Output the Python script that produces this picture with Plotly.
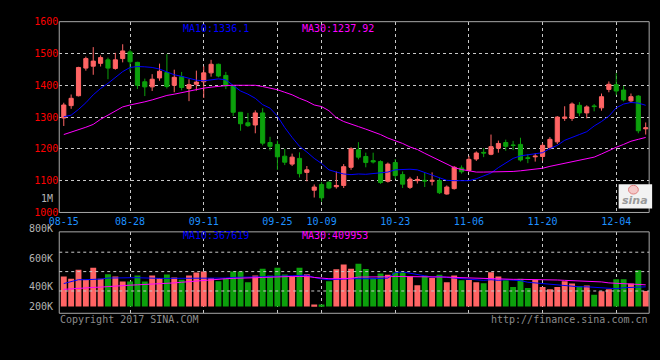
import plotly.graph_objects as go

W, H = 660, 360

# ---------------- data ----------------
label_idx = [0, 9, 19, 29, 35, 45, 55, 65, 75]
label_txt = ["08-15", "08-28", "09-11", "09-25", "10-09", "10-23", "11-06", "11-20", "12-04"]

opens = [1297, 1336, 1367, 1454, 1460, 1469, 1480, 1453, 1484, 1505,
         1472, 1411, 1395, 1423, 1440, 1400, 1427, 1390, 1403, 1411,
         1439, 1466, 1431, 1398, 1315, 1282, 1275, 1313, 1220, 1214,
         1177, 1152, 1170, 1126, 1070, 1088, 1095, 1081, 1085, 1142,
         1197, 1176, 1163, 1160, 1098, 1157, 1119, 1079, 1100, 1101,
         1098, 1100, 1058, 1075, 1140, 1132, 1168, 1189, 1183, 1202,
         1220, 1212, 1214, 1172, 1175, 1176, 1204, 1222, 1296, 1296,
         1337, 1313, 1335, 1329, 1387, 1402, 1385, 1351, 1366, 1263]
highs = [1345, 1371, 1458, 1490, 1520, 1494, 1487, 1502, 1529, 1512,
         1474, 1421, 1435, 1468, 1498, 1449, 1442, 1419, 1446, 1460,
         1480, 1468, 1442, 1400, 1315, 1313, 1321, 1328, 1238, 1226,
         1200, 1185, 1189, 1146, 1088, 1096, 1098, 1129, 1152, 1205,
         1221, 1188, 1188, 1164, 1157, 1168, 1129, 1112, 1114, 1124,
         1126, 1108, 1085, 1146, 1148, 1178, 1192, 1202, 1245, 1226,
         1229, 1225, 1235, 1183, 1186, 1218, 1237, 1303, 1334, 1346,
         1347, 1337, 1341, 1374, 1412, 1438, 1398, 1374, 1369, 1283]
lows = [1272, 1326, 1365, 1446, 1433, 1459, 1419, 1449, 1472, 1443,
        1388, 1366, 1382, 1414, 1390, 1378, 1384, 1350, 1383, 1360,
        1427, 1425, 1388, 1303, 1257, 1269, 1249, 1211, 1195, 1134,
        1149, 1146, 1110, 1098, 1047, 1034, 1073, 1075, 1077, 1134,
        1167, 1142, 1154, 1090, 1094, 1105, 1077, 1074, 1091, 1080,
        1085, 1058, 1056, 1072, 1122, 1128, 1162, 1174, 1180, 1188,
        1194, 1196, 1160, 1155, 1160, 1163, 1198, 1215, 1288, 1288,
        1303, 1296, 1318, 1320, 1378, 1369, 1349, 1344, 1249, 1245]
closes = [1338, 1359, 1456, 1484, 1476, 1487, 1454, 1480, 1508, 1474,
          1400, 1395, 1419, 1444, 1396, 1425, 1393, 1402, 1410, 1439,
          1466, 1429, 1398, 1315, 1279, 1273, 1313, 1218, 1208, 1175,
          1158, 1174, 1122, 1134, 1080, 1046, 1077, 1085, 1144, 1200,
          1174, 1157, 1159, 1094, 1152, 1116, 1089, 1105, 1104, 1099,
          1101, 1062, 1080, 1142, 1128, 1167, 1187, 1187, 1207, 1217,
          1208, 1211, 1165, 1170, 1177, 1211, 1230, 1300, 1300, 1341,
          1313, 1332, 1333, 1364, 1403, 1382, 1354, 1364, 1257, 1266]
ma10 = [1301, 1306, 1324, 1345, 1370, 1390, 1406, 1426, 1443, 1456,
        1459, 1458, 1456, 1451, 1441, 1433, 1428, 1421, 1416, 1414,
        1418, 1420, 1417, 1400, 1382, 1372, 1359, 1339, 1328, 1303,
        1267, 1236, 1208, 1190, 1170, 1154, 1134, 1127, 1121, 1119,
        1121, 1120, 1122, 1124, 1127, 1134, 1136, 1136, 1134, 1126,
        1119, 1109, 1101, 1100, 1100, 1100, 1106, 1114, 1124, 1141,
        1155, 1170, 1178, 1181, 1183, 1188, 1201, 1211, 1227, 1237,
        1245, 1254, 1272, 1286, 1303, 1329, 1341, 1346, 1344, 1337]
ma30 = [1245, 1252, 1260, 1268, 1277, 1293, 1306, 1318, 1332, 1338,
        1342, 1348, 1354, 1361, 1368, 1372, 1377, 1381, 1385, 1391,
        1394, 1397, 1399, 1400, 1400, 1400, 1400, 1396, 1392, 1386,
        1378, 1370, 1359, 1350, 1338, 1333, 1320, 1298, 1286, 1277,
        1270, 1262, 1254, 1245, 1234, 1226, 1217, 1206, 1198, 1186,
        1175, 1164, 1151, 1141, 1135, 1130, 1127, 1127, 1127, 1127,
        1128, 1129, 1131, 1133, 1136, 1139, 1145, 1150, 1154, 1159,
        1164, 1169, 1174, 1184, 1195, 1205, 1214, 1224, 1230, 1236]
volumes = [516, 477, 632, 460, 666, 477, 555, 516, 427, 427,
           533, 427, 533, 488, 549, 499, 460, 533, 582, 599,
           488, 433, 477, 599, 599, 416, 533, 649, 533, 666,
           549, 516, 666, 555, 33, 33, 433, 638, 721, 649,
           732, 643, 488, 566, 544, 582, 582, 516, 366, 527,
           488, 544, 416, 533, 449, 455, 416, 399, 588, 516,
           449, 333, 477, 316, 460, 333, 294, 333, 433, 394,
           349, 361, 200, 261, 294, 466, 466, 394, 621, 266]  # thousands
vol_ma10 = [394, 433, 460, 460, 460, 471, 488, 494, 494, 494,
            494, 488, 477, 483, 483, 483, 483, 483, 488, 488,
            488, 488, 488, 499, 499, 499, 505, 510, 516, 516,
            516, 527, 533, 538, 499, 471, 460, 460, 471, 477,
            471, 477, 477, 488, 488, 582, 594, 571, 544, 527,
            505, 516, 499, 488, 483, 477, 460, 449, 460, 449,
            460, 455, 444, 416, 405, 394, 377, 377, 361, 349,
            338, 338, 327, 316, 316, 305, 322, 333, 333, 338]
vol_ma30 = [294, 305, 316, 322, 327, 333, 344, 349, 361, 366,
            372, 377, 383, 388, 394, 405, 416, 427, 444, 455,
            460, 466, 477, 483, 483, 488, 494, 499, 505, 510,
            510, 516, 516, 516, 499, 483, 477, 477, 477, 483,
            505, 505, 499, 505, 510, 516, 516, 510, 510, 510,
            510, 510, 505, 499, 494, 494, 488, 477, 471, 471,
            466, 466, 466, 466, 466, 466, 466, 455, 449, 444,
            444, 433, 427, 422, 405, 399, 388, 383, 383, 372]
price_ticks = [1000, 1100, 1200, 1300, 1400, 1500, 1600]
vol_labels = ["800K", "600K", "400K", "200K"]
ma_price_text = ["MA10:1336.1", "MA30:1237.92"]
ma_vol_text = ["MA10:367619", "MA30:409953"]

# ---------------- styling ----------------
UP = "#ff6464"
DOWN = "#0ca00c"
GRID = "#c8c8c8"
BORDER = "#a8a8a8"
FONT = "DejaVu Sans Mono"

def px(x):
    return x / W

def py(y):
    return 1 - y / H

x = list(range(len(closes)))
vol_units = [v * 1000 for v in volumes]
vcolors = [UP if c >= o else DOWN for o, c in zip(opens, closes)]

fig = go.Figure()
fig.add_trace(go.Candlestick(
    x=x, open=opens, high=highs, low=lows, close=closes,
    increasing=dict(line=dict(color=UP, width=1), fillcolor=UP),
    decreasing=dict(line=dict(color=DOWN, width=1), fillcolor=DOWN),
    whiskerwidth=0, xaxis="x", yaxis="y", showlegend=False, hoverinfo="skip"))
fig.add_trace(go.Scatter(x=x, y=ma10, mode="lines", line=dict(color="#0000ff", width=1),
                         xaxis="x", yaxis="y", showlegend=False, hoverinfo="skip"))
fig.add_trace(go.Scatter(x=x, y=ma30, mode="lines", line=dict(color="#ff00ff", width=1),
                         xaxis="x", yaxis="y", showlegend=False, hoverinfo="skip"))
fig.add_trace(go.Bar(x=x, y=vol_units, marker=dict(color=vcolors, line=dict(width=0)),
                     xaxis="x2", yaxis="y2", showlegend=False, hoverinfo="skip"))
fig.add_trace(go.Scatter(x=x, y=[v * 1000 for v in vol_ma10], mode="lines",
                         line=dict(color="#0000ff", width=1),
                         xaxis="x2", yaxis="y2", showlegend=False, hoverinfo="skip"))
fig.add_trace(go.Scatter(x=x, y=[v * 1000 for v in vol_ma30], mode="lines",
                         line=dict(color="#ff00ff", width=1),
                         xaxis="x2", yaxis="y2", showlegend=False, hoverinfo="skip"))

XL, XR = 50, 649
MT, MB = 17.2, 214
VT, VB, VZERO = 234, 318, 311
per_px = 16640  # volume units per pixel
xrange = [-0.615, 79.47]

minor_grid = dict(tickvals=label_idx[1:], showgrid=True, gridcolor=GRID,
                  griddash="dot", gridwidth=1, ticks="")

fig.update_layout(
    width=W, height=H, margin=dict(l=0, r=0, t=0, b=0),
    paper_bgcolor="black", plot_bgcolor="black",
    bargap=0.2, boxgap=0.2,
    xaxis=dict(domain=[px(XL), px(XR)], range=xrange, anchor="y",
               tickvals=label_idx, ticktext=label_txt, showgrid=False,
               minor=minor_grid, zeroline=False, showline=False, ticks="",
               ticklabelstandoff=2,
               tickfont=dict(family=FONT, size=10, color="#1e90ff"),
               rangeslider=dict(visible=False)),
    yaxis=dict(domain=[py(MB), py(MT)], range=[1000, 1600], anchor="x",
               tickvals=price_ticks, showgrid=True, gridcolor=GRID, griddash="dot",
               zeroline=False, showline=False, ticks="",
               tickfont=dict(family=FONT, size=10, color="#ff0000")),
    xaxis2=dict(domain=[px(XL), px(XR)], range=xrange, anchor="y2", matches="x",
                tickvals=label_idx, showticklabels=False, showgrid=False,
                minor=minor_grid, zeroline=False, showline=False, ticks=""),
    yaxis2=dict(domain=[py(VB), py(VT)],
                range=[-(VB - VZERO) * per_px, (VZERO - VT) * per_px], anchor="x2",
                showticklabels=False, showgrid=False, zeroline=False, showline=False),
)

shapes = []
for (t, b) in [(MT, MB), (VT, VB)]:
    shapes.append(dict(type="rect", xref="paper", yref="paper",
                       x0=px(XL), x1=px(XR), y0=py(b), y1=py(t),
                       line=dict(color=BORDER, width=1)))
for gy in [255, 275, 295]:
    shapes.append(dict(type="line", xref="paper", yref="paper",
                       x0=px(XL), x1=px(XR), y0=py(gy), y1=py(gy),
                       line=dict(color=GRID, width=1, dash="dot")))
# sina logo box
shapes.append(dict(type="rect", xref="paper", yref="paper",
                   x0=px(618), x1=px(652), y0=py(210), y1=py(185),
                   fillcolor="#f2f2f2", line=dict(width=0)))
shapes.append(dict(type="circle", xref="paper", yref="paper",
                   x0=px(628), x1=px(638), y0=py(195), y1=py(186),
                   fillcolor="#f4c8c8", line=dict(color="#e08080", width=1)))
fig.update_layout(shapes=shapes)

ann = []
def text(t, xx, yy, color, anchor="left", size=10):
    ann.append(dict(text=t, x=px(xx), y=py(yy), xref="paper", yref="paper",
                    xanchor=anchor, yanchor="middle", showarrow=False,
                    font=dict(family=FONT, size=size, color=color)))

text(ma_price_text[0], 174, 24, "#0000ff")
text(ma_price_text[1], 294, 24, "#ff00ff")
text(ma_vol_text[0], 174, 238, "#0000ff")
text(ma_vol_text[1], 294, 238, "#ff00ff")
for lab, yy in zip(vol_labels, [231, 261, 290, 311]):
    text(lab, 46, yy, "#b4b4b4", anchor="right")
text("1M", 46, 200, "#b4b4b4", anchor="right")
text("Copyright 2017 SINA.COM", 49, 324, "#8c8c8c")
text("http://finance.sina.com.cn", 650, 324, "#8c8c8c", anchor="right")
ann.append(dict(text="<b><i>sina</i></b>", x=px(635), y=py(202), xref="paper", yref="paper",
                xanchor="center", yanchor="middle", showarrow=False,
                font=dict(family="DejaVu Sans", size=11, color="#9a9a9a")))
fig.update_layout(annotations=ann)

fig.write_html("out.html", config={"displayModeBar": False},
               post_script="document.body.style.margin='0';")
